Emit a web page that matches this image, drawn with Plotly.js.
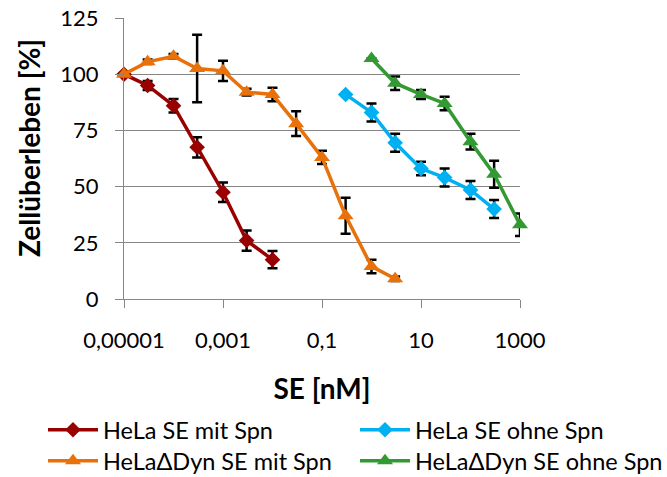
<!DOCTYPE html>
<html>
<head>
<meta charset="utf-8">
<script src="https://cdn.plot.ly/plotly-3.0.1.min.js"></script>
<style>html,body{margin:0;padding:0;background:#fff;}#chart{width:667px;height:477px;}</style>
</head>
<body>
<div id="chart"></div>
<script>
// Data
const xRed = [0.00001, 0.00003, 0.0001, 0.0003, 0.001, 0.003, 0.01];
const yRed = [100, 95, 86, 67.5, 47.5, 26, 17.5];
const errRed = [0, 2, 3, 4.5, 4.3, 4.5, 3.8];

const xOrange = [0.00001, 0.00003, 0.0001, 0.0003, 0.001, 0.003, 0.01, 0.03, 0.1, 0.3, 1, 3];
const yOrange = [100, 105.5, 108, 102.5, 101.5, 92, 91, 78, 63, 37, 14.5, 9];
const errOrange = [0, 1, 1, 15, 4.5, 1.5, 3, 5.5, 3, 8, 3, 1];

const xBlue = [0.3, 1, 3, 10, 30, 100, 300];
const yBlue = [91, 83, 69.5, 58, 54, 48.5, 40];
const errBlue = [0, 4, 4, 3, 4, 4, 4];

const xGreen = [1, 3, 10, 30, 100, 300, 1000];
const yGreen = [107, 96, 91, 87, 70, 55.5, 33];
const errGreen = [0, 3, 2, 3, 3.5, 6, 5];

const seriesNames = ['HeLa SE mit Spn', 'HeLa\u0394Dyn SE mit Spn', 'HeLa SE ohne Spn', 'HeLa\u0394Dyn SE ohne Spn'];
const xTickVals = [0.00001, 0.001, 0.1, 10, 1000];
const xTickText = ['0,00001', '0,001', '0,1', '10', '1000'];
const yTickVals = [0, 25, 50, 75, 100, 125];
const xTitle = 'SE [nM]';
const yTitle = 'Zellüberleben [%]';

const FONT = 'Lato, "Open Sans", sans-serif';
const W = 667, H = 477;
const errStyle = (arr) => ({type: 'data', array: arr, visible: true, color: '#000', thickness: 2.5, width: 5});

function tr(x, y, err, name, color, symbol, size, legend) {
  return {
    x: x, y: y, name: name, type: 'scatter', mode: 'lines+markers',
    line: {color: color, width: 3.5},
    marker: {color: color, symbol: symbol, size: size},
    error_y: errStyle(err),
    cliponaxis: false,
    legend: legend
  };
}

const data = [
  tr(xRed, yRed, errRed, seriesNames[0], '#990000', 'diamond', 12, 'legend'),
  tr(xOrange, yOrange, errOrange, seriesNames[1], '#E8710A', 'triangle-up', 14, 'legend2'),
  tr(xBlue, yBlue, errBlue, seriesNames[2], '#00B0F0', 'diamond', 12, 'legend3'),
  tr(xGreen, yGreen, errGreen, seriesNames[3], '#339933', 'triangle-up', 14, 'legend4')
];

function leg(px, py) {
  return {
    xref: 'container', yref: 'container', xanchor: 'left', yanchor: 'middle',
    x: px / W, y: 1 - py / H,
    orientation: 'v', bgcolor: 'rgba(0,0,0,0)', borderwidth: 0,
    font: {family: FONT, size: 23.5, color: '#000'},
    itemwidth: 50, tracegroupgap: 0
  };
}

const layout = {
  width: W, height: H,
  margin: {l: 124, r: 147, t: 18, b: 178, autoexpand: false},
  paper_bgcolor: '#fff', plot_bgcolor: '#fff',
  font: {family: FONT, color: '#000'},
  showlegend: true,
  xaxis: {
    type: 'log', range: [-5, 3],
    tickvals: xTickVals, ticktext: xTickText, tickangle: 0,
    showgrid: false, zeroline: false,
    showline: true, linecolor: '#868686', linewidth: 1,
    ticks: 'outside', ticklen: 8, tickcolor: '#868686',
    tickfont: {family: FONT, size: 22, color: '#000'},
    ticklabelstandoff: 14,
    title: {text: xTitle, font: {family: FONT, size: 28, weight: 700, color: '#000'}, standoff: 26}
  },
  yaxis: {
    range: [0, 125], tickvals: yTickVals,
    showgrid: true, gridcolor: '#868686', gridwidth: 1,
    zeroline: false,
    showline: true, linecolor: '#868686', linewidth: 1,
    ticks: 'outside', ticklen: 8, tickcolor: '#868686',
    tickfont: {family: FONT, size: 22, color: '#000'},
    ticklabelstandoff: 12
  },
  annotations: [{
    text: yTitle, textangle: -90,
    xref: 'paper', yref: 'paper',
    x: (29 - 124) / 396, y: (299 - 148) / 281,
    xanchor: 'center', yanchor: 'middle', showarrow: false,
    font: {family: FONT, size: 28, weight: 700, color: '#000'}
  }],
  legend: leg(43, 430),
  legend2: leg(43, 461),
  legend3: leg(355, 430),
  legend4: leg(355, 461)
};

Plotly.newPlot('chart', data, layout, {displayModeBar: false, staticPlot: true});
</script>
</body>
</html>
